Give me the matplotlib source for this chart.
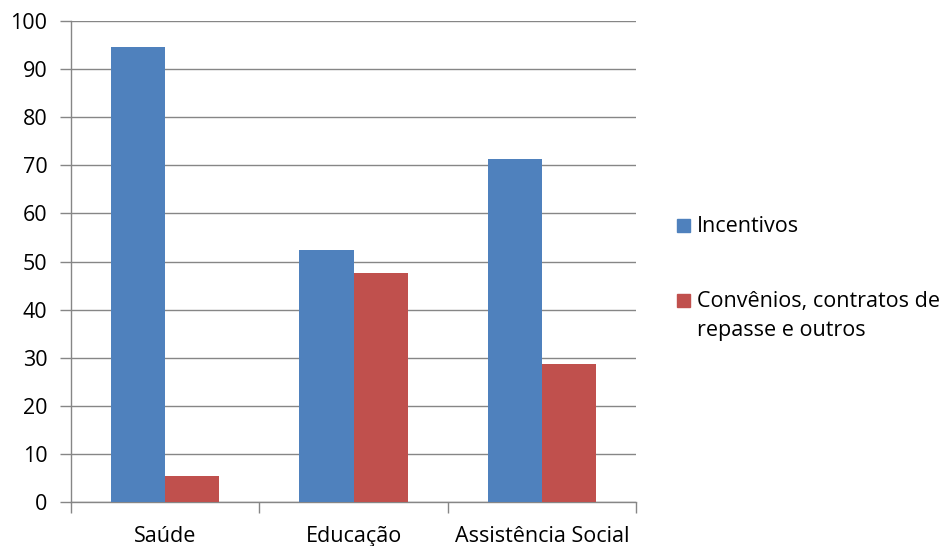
import numpy as np
import matplotlib.pyplot as plt
from matplotlib.patches import Rectangle

categories = ["Saúde", "Educação", "Assistência Social"]
incentivos = [94.5, 52.3, 71.4]
convenios = [5.5, 47.7, 28.6]
series_names = ["Incentivos", "Convênios, contratos de\nrepasse e outros"]

blue = "#4F81BD"
red = "#C0504D"
grid = "#868686"

plt.rcParams['font.family'] = ['Open Sans', 'DejaVu Sans']
fs = 15.5

fig = plt.figure(figsize=(9.49, 5.46), dpi=100)
ax = fig.add_axes([0.0748, 0.0806, 0.5955, 0.8809])

x = np.arange(len(categories))
w = 0.287
ax.bar(x - w / 2, incentivos, w, color=blue, zorder=3)
ax.bar(x + w / 2, convenios, w, color=red, zorder=3)

ax.set_xlim(-0.5, len(categories) - 0.5)
ax.set_ylim(0, 100)
ax.set_yticks(range(0, 101, 10))
ax.yaxis.grid(True, color=grid, linewidth=1, zorder=0)

# category ticks sit between the groups
ax.set_xticks(np.arange(-0.5, len(categories), 1.0))
ax.set_xticklabels([])
ax.set_xticks(x, minor=True)
ax.set_xticklabels(categories, minor=True)
ax.tick_params(axis='x', which='major', length=8, color=grid, width=1)
ax.tick_params(axis='x', which='minor', length=0, pad=17, labelsize=fs)
ax.tick_params(axis='y', length=8, color=grid, width=1, labelsize=fs, pad=9)

for s in ["top", "right"]:
    ax.spines[s].set_visible(False)
for s in ["left", "bottom"]:
    ax.spines[s].set_color(grid)
    ax.spines[s].set_linewidth(1)

# legend drawn by hand: square swatch beside the first line of each label
W, H = 949.0, 546.0
rows = [(225, blue, series_names[0]), (300, red, series_names[1])]
for yc, col, name in rows:
    fig.patches.append(Rectangle((677 / W, 1 - (yc + 6.5) / H), 13 / W, 13 / H,
                                 transform=fig.transFigure, color=col))
    fig.text(697 / W, 1 - (yc - 9) / H, name, fontsize=fs, va="top", ha="left",
             linespacing=1.5)

fig.savefig("out.png", dpi=100)
